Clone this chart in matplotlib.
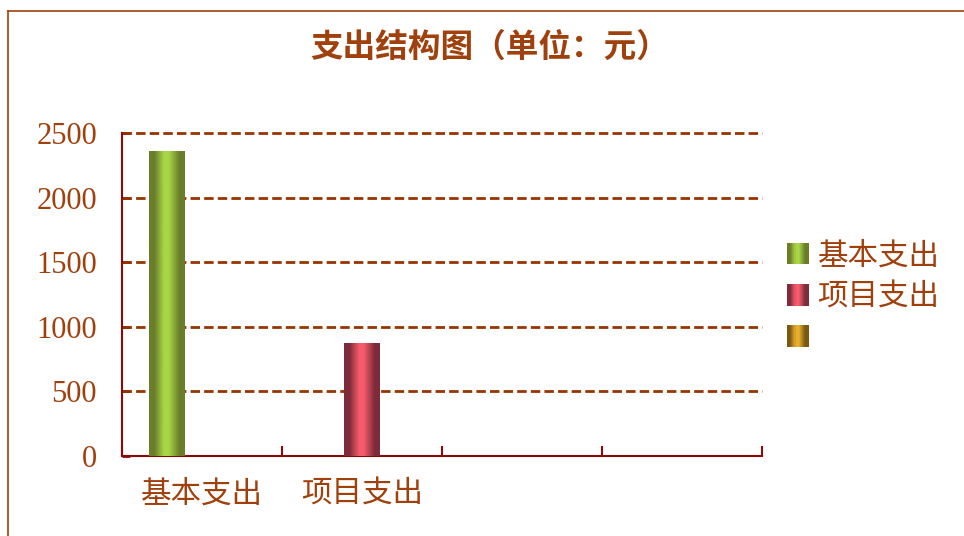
import numpy as np
import matplotlib
matplotlib.use("Agg")
import matplotlib.pyplot as plt
from matplotlib.patches import Rectangle
from matplotlib.legend_handler import HandlerBase
from matplotlib.colors import LinearSegmentedColormap
from matplotlib.lines import Line2D

plt.rcParams['font.family'] = ['Noto Sans CJK SC', 'DejaVu Sans']

# ---- data ----
title = "支出结构图（单位：元）"
categories = ["基本支出", "项目支出", "", ""]
series_names = ["基本支出", "项目支出", ""]
basic_values = [2360, np.nan, np.nan, np.nan]
project_values = [np.nan, 875, np.nan, np.nan]
third_values = [np.nan, np.nan, np.nan, np.nan]
y_ticks = [0, 500, 1000, 1500, 2000, 2500]

TEXT = "#A0410D"
GRID = "#993300"
SPINE = "#8B0A0A"

# gradient colour pairs (edge, centre)
grad_colors = [("#6A7E2A", "#A8D646"), ("#7E2B3A", "#F65B6C"), ("#7A5A12", "#E8AE2C")]

def make_cmap(edge, centre):
    return LinearSegmentedColormap.from_list(
        "g", [(0, edge), (0.15, edge), (0.42, centre), (0.55, centre), (0.85, edge), (1, edge)])

fig = plt.figure(figsize=(9.64, 5.36), dpi=100)
ax = fig.add_axes([122/964, 1-456/536, 640/964, 323/536])

series = [basic_values, project_values, third_values]
n_cat = len(categories)
bw = 0.22
grad = np.linspace(0, 1, 256).reshape(1, -1)
for j, vals in enumerate(series):
    xs = np.arange(n_cat) + 0.5 + (j - 1) * bw
    cmap = make_cmap(*grad_colors[j])
    bars = ax.bar(xs, np.nan_to_num(vals), width=bw, color=grad_colors[j][0],
                  linewidth=0, zorder=3)
    for b, v in zip(bars, vals):
        if np.isnan(v) or v == 0:
            continue
        x0, w, h = b.get_x(), b.get_width(), b.get_height()
        im = ax.imshow(grad, cmap=cmap, aspect='auto',
                       extent=[x0, x0 + w, 0, h], zorder=4, interpolation='bilinear')
        im.set_clip_path(b)

ax.set_xlim(0, n_cat)
ax.set_ylim(0, 2500)
ax.set_yticks(y_ticks)
ax.set_yticklabels([str(t) for t in y_ticks], family=['Liberation Serif'],
                   fontsize=22, color=TEXT)
ax.set_xticks(np.arange(n_cat + 1))
ax.set_xticklabels([])
ax.set_xticks(np.arange(n_cat) + 0.5, minor=True)
ax.set_xticklabels(categories, minor=True, fontsize=22, color=TEXT)
ax.tick_params(axis='x', which='minor', length=0, pad=16)
ax.tick_params(axis='x', which='major', direction='in', length=7, width=1.5, color=SPINE)
ax.tick_params(axis='y', direction='in', length=6, width=2, color=SPINE, pad=18)

for y in y_ticks[1:]:
    ax.axhline(y, color=GRID, lw=2.0, linestyle=(0, (3.4, 1.5)), zorder=2, clip_on=False)

for s in ['top', 'right']:
    ax.spines[s].set_visible(False)
for s in ['left', 'bottom']:
    ax.spines[s].set_color(SPINE)
    ax.spines[s].set_linewidth(1.5)
ax.spines['left'].set_bounds(0, 2500)

fig.text(490/964, 1-47/536, title, ha='center', va='center', fontsize=23.5,
         fontweight='bold', color=TEXT)


class GradHandler(HandlerBase):
    def __init__(self, edge, centre):
        super().__init__()
        self.cmap = make_cmap(edge, centre)

    def create_artists(self, legend, orig_handle, xdescent, ydescent,
                       width, height, fontsize, trans):
        n = 20
        size = min(width, height) * 1.0
        x0 = -xdescent + (width - size) / 2
        y0 = -ydescent + (height - size) / 2
        arts = []
        for k in range(n):
            r = Rectangle((x0 + k * size / n, y0), size / n + 0.3, size,
                          facecolor=self.cmap((k + 0.5) / n), edgecolor='none',
                          transform=trans)
            arts.append(r)
        return arts


handles = [Rectangle((0, 0), 1, 1) for _ in series_names]
leg = fig.legend(handles, series_names,
                 handler_map={h: GradHandler(*grad_colors[i]) for i, h in enumerate(handles)},
                 loc='center left', bbox_to_anchor=(787/964, 1-297/536),
                 frameon=False, fontsize=22, labelcolor=TEXT,
                 handlelength=0.7, handleheight=0.75, handletextpad=0.3,
                 labelspacing=0.33, borderpad=0, borderaxespad=0)

# outer border (partially visible)
fig.add_artist(Line2D([8/964, 8/964], [0, 1-11/536], transform=fig.transFigure,
                      color=TEXT, lw=1.2))
fig.add_artist(Line2D([8/964, 1], [1-11/536, 1-11/536], transform=fig.transFigure,
                      color=TEXT, lw=1.2))

fig.savefig("out.png", dpi=100)
